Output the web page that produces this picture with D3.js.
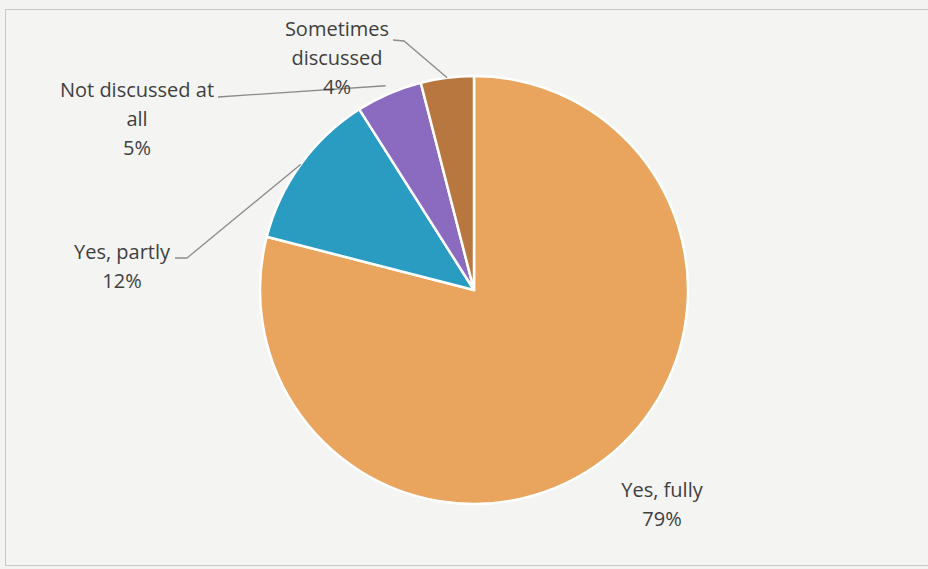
<!DOCTYPE html>
<html>
<head>
<meta charset="utf-8">
<script src="https://cdn.jsdelivr.net/npm/d3@7"></script>
<style>
  html, body { margin: 0; padding: 0; background: #f3f3f2; }
  svg { display: block; }
</style>
</head>
<body>
<svg id="chart" width="928" height="569"></svg>
<script>
const categories = ["Yes, fully", "Yes, partly", "Not discussed at all", "Sometimes discussed"];
const values = [79, 12, 5, 4];
const labelLines = [["Yes, fully", "79%"], ["Yes, partly", "12%"], ["Not discussed at", "all", "5%"], ["Sometimes", "discussed", "4%"]];
const colors = ["#e9a55e", "#2a9cc2", "#8a6bbf", "#b8773f"];

const W = 928, H = 569;
const cx = 474, cy = 290, R = 214;
const svg = d3.select("#chart");

svg.append("rect").attr("x", 5.5).attr("y", 9.5).attr("width", 930).attr("height", 556)
  .attr("fill", "#f4f4f3").attr("stroke", "#c8c8c8").attr("stroke-width", 1);

const pie = d3.pie().sort(null).value(d => d)(values);
const arc = d3.arc().innerRadius(0).outerRadius(R);

const g = svg.append("g").attr("transform", `translate(${cx},${cy})`);
g.selectAll("path").data(pie).join("path")
  .attr("d", arc)
  .attr("fill", (d, i) => colors[i])
  .attr("stroke", "#ffffff")
  .attr("stroke-width", 2.5)
  .attr("stroke-linejoin", "round");

// label layout (text anchor centre x, first-line baseline y) and leader elbows
const labelLayout = [
  { x: 662, y: 497, leader: null },
  { x: 122, y: 259, leader: { ax: 175, ay: 258, ex: 187, ey: 258, r: 1.0 } },
  { x: 137, y: 97, leader: { ax: 218, ay: 97, ex: 218, ey: 97, r: 1.04 } },
  { x: 337, y: 36, leader: { ax: 393, ay: 40, ex: 404, ey: 41, r: 1.0 } }
];
const lineH = 29;

pie.forEach((d, i) => {
  const L = labelLayout[i];
  if (L.leader) {
    const mid = (d.startAngle + d.endAngle) / 2;
    const px = cx + Math.sin(mid) * R * L.leader.r;
    const py = cy - Math.cos(mid) * R * L.leader.r;
    svg.append("path")
      .attr("d", d3.line()([[L.leader.ax, L.leader.ay], [L.leader.ex, L.leader.ey], [px, py]]))
      .attr("fill", "none").attr("stroke", "#8c8c8c").attr("stroke-width", 1.3);
  }
  const t = svg.append("text")
    .attr("x", L.x).attr("y", L.y)
    .attr("text-anchor", "middle")
    .attr("font-family", "'Open Sans', Lato, sans-serif")
    .attr("font-size", 20)
    .attr("fill", "#3f3f3f");
  labelLines[i].forEach((s, k) => {
    t.append("tspan").attr("x", L.x).attr("dy", k === 0 ? 0 : lineH).text(s);
  });
});
</script>
</body>
</html>
